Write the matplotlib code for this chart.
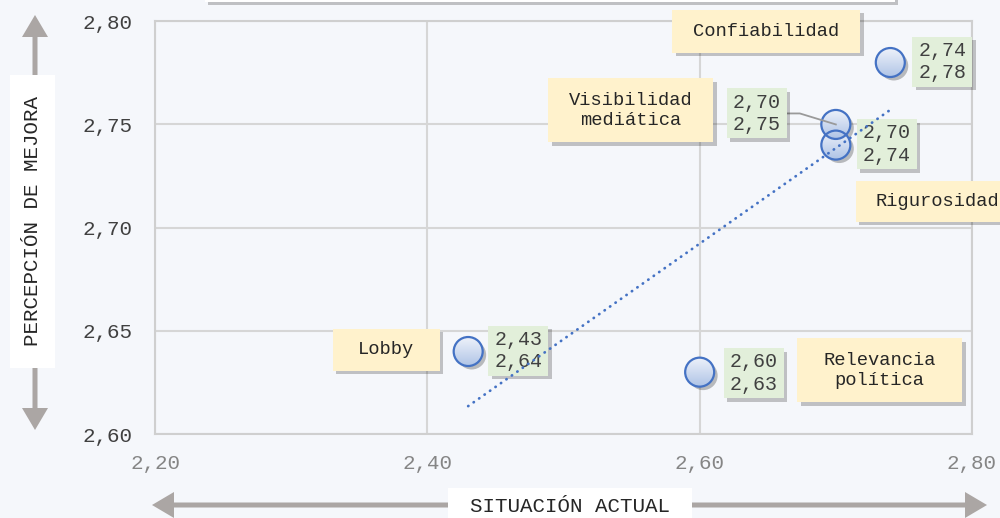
import numpy as np
import matplotlib.pyplot as plt
from matplotlib import patheffects as pe
from matplotlib import transforms
from matplotlib.patches import Rectangle, Circle, FancyArrow

plt.rcParams['font.family'] = ['Liberation Mono', 'DejaVu Sans Mono']

# datos
names = ['Confiabilidad', 'Visibilidad\nmediática', 'Rigurosidad', 'Lobby', 'Relevancia\npolítica']
situacion = [2.74, 2.70, 2.70, 2.43, 2.60]
mejora = [2.78, 2.75, 2.74, 2.64, 2.63]
x_ticks = [2.20, 2.40, 2.60, 2.80]
y_ticks = [2.60, 2.65, 2.70, 2.75, 2.80]

# posicion de las etiquetas, en pixeles respecto a cada punto
name_off = [(-124, 31), (-205, 14), (102, -56), (-82, 2), (180, 2)]
name_size = [(188, 43), (165, 64), (164, 41), (107, 42), (165, 64)]
value_off = [(52, 1), (-79, 11), (51, 1), (50, 1), (54, -1)]
value_size = (60, 50)

BG = '#f5f7fb'
BLUE = '#4472c4'
YELLOW = '#fff2cc'
GREEN = '#e2efda'
GRID = '#d6d6d6'

shadow = [pe.SimplePatchShadow(offset=(2.5, -2.5), shadow_rgbFace='black', alpha=0.22), pe.Normal()]


def fmt(v):
    return f'{v:.2f}'.replace('.', ',')


fig = plt.figure(figsize=(10, 5.18), dpi=100, facecolor=BG)
ax = fig.add_axes([0.155, 0.162, 0.817, 0.797])
ax.set_facecolor(BG)
ax.set_xlim(2.20, 2.80)
ax.set_ylim(2.60, 2.80)
ax.set_xticks(x_ticks)
ax.set_yticks(y_ticks)
ax.set_xticklabels([fmt(v) for v in x_ticks])
ax.set_yticklabels([fmt(v) for v in y_ticks])
ax.tick_params(axis='x', length=0, pad=14, labelsize=15, labelcolor='#858585')
ax.tick_params(axis='y', length=0, pad=16, labelsize=15, labelcolor='#404040')
ax.grid(True, color=GRID, lw=1.5)
ax.set_axisbelow(True)
for s in ax.spines.values():
    s.set_color('#cfcfcf')
    s.set_linewidth(1.5)

px = transforms.IdentityTransform()


def anchored(x, y):
    # coordenadas en pixeles con origen en el punto (x, y)
    return px + transforms.ScaledTranslation(x, y, ax.transData)


def box(x, y, off, size, color, text, fs, tcolor, z):
    t = anchored(x, y)
    w, h = size
    r = Rectangle((off[0] - w / 2, off[1] - h / 2), w, h, transform=t, facecolor=color,
                  edgecolor='none', zorder=z, clip_on=False, path_effects=shadow)
    ax.add_patch(r)
    ax.text(off[0], off[1], text, transform=t, ha='center', va='center', fontsize=fs,
            color=tcolor, linespacing=1.25, zorder=z + 0.1, clip_on=False)


# gradiente de los marcadores
grad = np.linspace(0, 1, 64).reshape(-1, 1)
cmap = plt.matplotlib.colors.LinearSegmentedColormap.from_list('m', ['#aec3e6', '#eef2fa'])

order = [2, 0, 1, 3, 4]
for i in order:
    x, y = situacion[i], mejora[i]
    t = anchored(x, y)
    sh = Circle((0, 0), 14.5, transform=t, facecolor='white', edgecolor='none', zorder=4,
                path_effects=[pe.SimplePatchShadow(offset=(2.5, -2.5), shadow_rgbFace='black', alpha=0.25)])
    ax.add_patch(sh)
    clip = Circle((0, 0), 14.5, transform=t, facecolor='none', edgecolor='none')
    ax.add_patch(clip)
    im = ax.imshow(grad, cmap=cmap, origin='lower', extent=(-15, 15, -15, 15), zorder=4.2,
                   interpolation='bilinear', aspect='auto')
    im.set_transform(t)
    im.set_clip_path(clip)
    ax.add_patch(Circle((0, 0), 14.5, transform=t, facecolor='none', edgecolor=BLUE, lw=1.6, zorder=4.4))

ax.set_xlim(2.20, 2.80)
ax.set_ylim(2.60, 2.80)

for i in range(len(names)):
    x, y = situacion[i], mejora[i]
    box(x, y, name_off[i], name_size[i], YELLOW, names[i], 13.5, '#262626', 5)
    box(x, y, value_off[i], value_size, GREEN, f'{fmt(x)}\n{fmt(y)}', 14.4, '#404040', 5)

# linea guia de Visibilidad mediática
vx, vy = value_off[1]
ax.plot([vx + value_size[0] / 2, vx + value_size[0] / 2 + 13, 0], [vy, vy, 0], color='#9a9a9a',
        lw=1.3, transform=anchored(situacion[1], mejora[1]), zorder=4.6, clip_on=False)

# tendencia lineal
slope, icpt = np.polyfit(situacion, mejora, 1)
xs = np.array([min(situacion), max(situacion)])
ax.plot(xs, slope * xs + icpt, color=BLUE, lw=2.0, linestyle=(0, (0.1, 2.3)),
        dash_capstyle='round', zorder=8)

# flechas de los ejes
ARROW = '#aba6a4'
for (x0, y0, dx, dy) in [(35, 295, 0, 208), (35, 295, 0, -207), (570, 13, 417, 0), (570, 13, -418, 0)]:
    fig.add_artist(FancyArrow(x0, y0, dx, dy, width=5, head_width=26, head_length=22,
                              length_includes_head=True, color=ARROW, transform=px, lw=0))

fig.add_artist(Rectangle((10, 150), 45, 293, transform=px, facecolor='white', edgecolor='none'))
fig.text(32.5 / 1000, 1 - 221 / 518, 'PERCEPCIÓN DE MEJORA', rotation=90, ha='center', va='center',
         fontsize=15, color='#262626')
fig.add_artist(Rectangle((448, -5), 244, 35, transform=px, facecolor='white', edgecolor='none'))
fig.text(570 / 1000, 1 - 506 / 518, 'SITUACIÓN ACTUAL', ha='center', va='center',
         fontsize=15, color='#262626')

# recuadro del titulo superior
fig.add_artist(Rectangle((205, 516), 690, 30, transform=px, facecolor='white', edgecolor='none',
                         path_effects=shadow))

fig.savefig('out.png', dpi=100, facecolor=BG)
